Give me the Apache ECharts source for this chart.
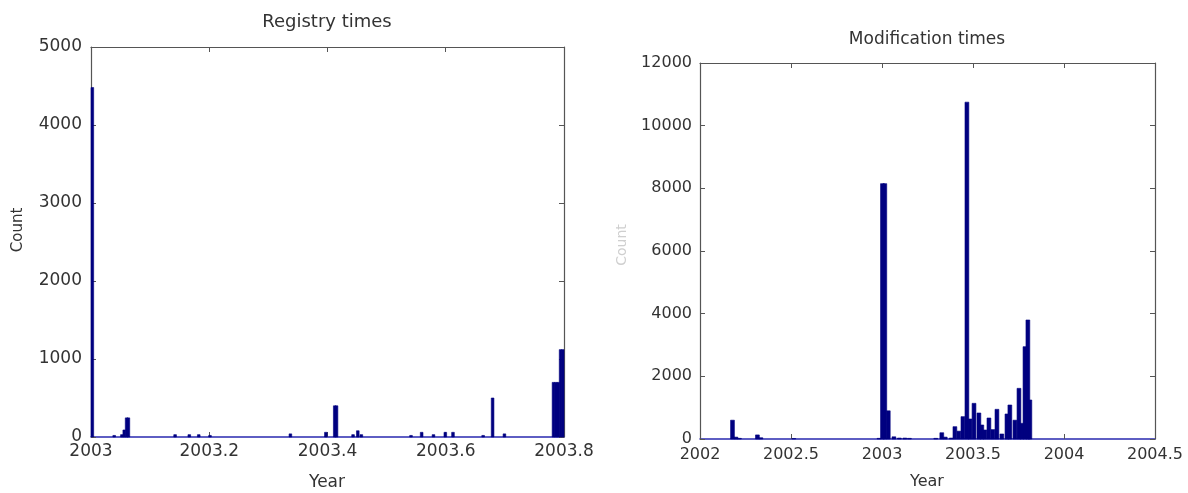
<!DOCTYPE html>
<html>
<head>
<meta charset="utf-8">
<script src="https://cdn.jsdelivr.net/npm/echarts@6/dist/echarts.min.js"></script>
<style>
html,body{margin:0;padding:0;background:#fff;}
#c{width:1188px;height:493px;}
</style>
</head>
<body>
<div id="c"></div>
<script>
// ---- Data (years, counts) ----
const registryStart = [2003.000, 2003.037, 2003.050, 2003.054, 2003.058, 2003.061, 2003.140, 2003.164, 2003.180, 2003.199,
  2003.335, 2003.395, 2003.410, 2003.413, 2003.441, 2003.449, 2003.455, 2003.539, 2003.557, 2003.577,
  2003.597, 2003.610, 2003.661, 2003.677, 2003.697, 2003.780, 2003.784, 2003.788, 2003.792, 2003.796];
const registryCount = [4480, 20, 30, 90, 245, 245, 30, 30, 30, 20,
  40, 60, 400, 400, 30, 80, 30, 20, 60, 30,
  60, 60, 20, 500, 40, 700, 700, 700, 1120, 1120];
const registryBinWidth = 0.0045;

const modStart = [2002.168, 2002.187, 2002.206, 2002.305, 2002.324, 2002.505, 2002.973, 2002.992, 2003.005, 2003.024,
  2003.055, 2003.085, 2003.115, 2003.140, 2003.285, 2003.318, 2003.337, 2003.370, 2003.390, 2003.412,
  2003.434, 2003.456, 2003.473, 2003.495, 2003.522, 2003.538, 2003.555, 2003.577, 2003.599, 2003.621,
  2003.648, 2003.676, 2003.692, 2003.720, 2003.742, 2003.758, 2003.775, 2003.791, 2003.802];
const modCount = [600, 60, 20, 130, 40, 15, 20, 8150, 8150, 900,
  70, 30, 30, 20, 20, 200, 60, 30, 393, 250,
  713, 10750, 638, 1138, 830, 447, 287, 670, 300, 947,
  160, 798, 1085, 600, 1617, 500, 2946, 3798, 1245];
const modBinWidth = 0.021;

const registryXTicks = {min: 2003, max: 2003.8, interval: 0.2};
const registryYTicks = {min: 0, max: 5000, interval: 1000};
const modXTicks = {min: 2002, max: 2004.5, interval: 0.5};
const modYTicks = {min: 0, max: 12000, interval: 2000};

// ---- Chart ----
const chart = echarts.init(document.getElementById('c'), null, {renderer: 'canvas'});
const FONT = 'DejaVu Sans';
const TXT = '#333333';
const BOX = '#555555';
const BAR = '#000080';
const BASE = '#2a2ab0';

function bins(starts, counts, w) {
  return starts.map((s, i) => [s, s + w, counts[i]]);
}
function renderBin(params, api) {
  const a = api.coord([api.value(0), api.value(2)]);
  const b = api.coord([api.value(1), 0]);
  const cs = params.coordSys;
  const shape = echarts.graphic.clipRectByRect(
    {x: a[0], y: a[1], width: b[0] - a[0], height: b[1] - a[1]},
    {x: cs.x, y: cs.y, width: cs.width, height: cs.height});
  if (!shape) return;
  return {type: 'rect', shape: shape, style: {fill: BAR, stroke: BAR, lineWidth: 0.6}};
}
function fmtX(v) { return String(parseFloat(v.toFixed(2))); }
function fmtY(v) { return String(Math.round(v)); }

function xAx(grid, t, pos, fs, margin) {
  const bottom = pos === 'bottom';
  return {
    type: 'value', gridIndex: grid, position: pos, min: t.min, max: t.max, interval: t.interval,
    axisLine: {show: true, onZero: false, lineStyle: {color: bottom ? BASE : BOX, width: bottom ? 1.5 : 1.2}},
    axisTick: {show: true, inside: true, length: 5, lineStyle: {color: BOX}},
    axisLabel: {show: bottom, formatter: fmtX, fontFamily: FONT, fontSize: fs, color: TXT, margin: margin,
      showMinLabel: true, showMaxLabel: true},
    splitLine: {show: false}
  };
}
function yAx(grid, t, pos, fs, margin) {
  const left = pos === 'left';
  return {
    type: 'value', gridIndex: grid, position: pos, min: t.min, max: t.max, interval: t.interval,
    axisLine: {show: true, onZero: false, lineStyle: {color: BOX, width: 1.2}},
    axisTick: {show: true, inside: true, length: 5, lineStyle: {color: BOX}},
    axisLabel: {show: left, formatter: fmtY, fontFamily: FONT, fontSize: fs, color: TXT, margin: margin},
    splitLine: {show: false}
  };
}

const option = {
  animation: false,
  backgroundColor: '#ffffff',
  grid: [
    {left: 91, top: 47, width: 473, height: 390},
    {left: 700, top: 63, width: 455, height: 376}
  ],
  xAxis: [
    xAx(0, registryXTicks, 'bottom', 17, 6),
    xAx(0, registryXTicks, 'top', 17, 6),
    xAx(1, modXTicks, 'bottom', 16, 8),
    xAx(1, modXTicks, 'top', 16, 8)
  ],
  yAxis: [
    yAx(0, registryYTicks, 'left', 17, 9),
    yAx(0, registryYTicks, 'right', 17, 9),
    yAx(1, modYTicks, 'left', 16, 8),
    yAx(1, modYTicks, 'right', 16, 8)
  ],
  series: [
    {type: 'custom', xAxisIndex: 0, yAxisIndex: 0, renderItem: renderBin,
      encode: {x: [0, 1], y: 2}, data: bins(registryStart, registryCount, registryBinWidth), z: 3},
    {type: 'custom', xAxisIndex: 2, yAxisIndex: 2, renderItem: renderBin,
      encode: {x: [0, 1], y: 2}, data: bins(modStart, modCount, modBinWidth), z: 3}
  ],
  graphic: [
    {type: 'text', x: 327, y: 22, style: {text: 'Registry times', font: '18px "DejaVu Sans"', fill: TXT, textAlign: 'center', textVerticalAlign: 'middle'}},
    {type: 'text', x: 927, y: 40, style: {text: 'Modification times', font: '17px "DejaVu Sans"', fill: TXT, textAlign: 'center', textVerticalAlign: 'middle'}},
    {type: 'text', x: 327, y: 483, style: {text: 'Year', font: '17px "DejaVu Sans"', fill: TXT, textAlign: 'center', textVerticalAlign: 'middle'}},
    {type: 'text', x: 927, y: 482, style: {text: 'Year', font: '16px "DejaVu Sans"', fill: TXT, textAlign: 'center', textVerticalAlign: 'middle'}},
    {type: 'text', x: 18, y: 230, rotation: Math.PI / 2, style: {text: 'Count', font: '15px "DejaVu Sans"', fill: TXT, textAlign: 'center', textVerticalAlign: 'middle'}},
    {type: 'text', x: 622, y: 245, rotation: Math.PI / 2, style: {text: 'Count', font: '14px "DejaVu Sans"', fill: '#cfcfcf', textAlign: 'center', textVerticalAlign: 'middle'}}
  ]
};
chart.setOption(option);
</script>
</body>
</html>
